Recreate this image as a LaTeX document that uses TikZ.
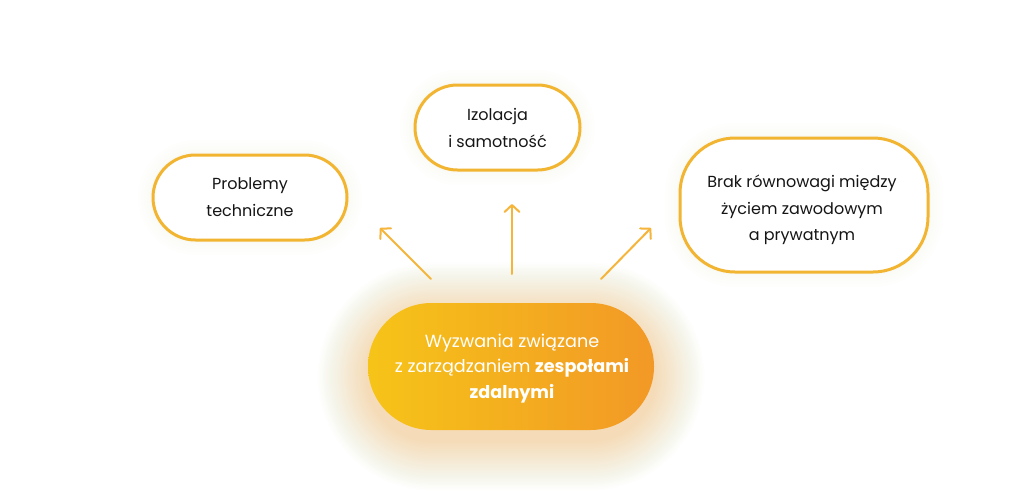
\documentclass[tikz,border=0pt]{standalone}
\usepackage{fontspec}
\setmainfont{Poppins}
\usetikzlibrary{arrows.meta}
\definecolor{bord}{HTML}{F2B532}
\definecolor{arr}{HTML}{F5B53A}
\definecolor{gy}{HTML}{F6C418}
\definecolor{go}{HTML}{F29826}
\definecolor{glowc}{HTML}{F5A53A}
\definecolor{txt}{HTML}{151515}
\begin{document}
\begin{tikzpicture}[x=1pt,y=-1pt,
  box/.style={draw=bord, line width=3pt, fill=white, inner sep=0pt},
  boxtext/.style={align=center, font=\fontsize{16}{27}\selectfont, text=txt, inner sep=0pt},
  mainbox/.style={left color=gy, right color=go, inner sep=0pt},
  link/.style={draw=arr, line width=2pt, line cap=round,
    -{Straight Barb[length=7pt,width=15pt,line width=2pt,round]}}]
\useasboundingbox (0,0) rectangle (1024,490);
\fill[white] (0,0) rectangle (1024,490);
% glow around main node
\foreach \i [evaluate=\i as \d using 1.4*\i, evaluate=\i as \r using 63.5+1.4*\i] in {1,...,36} {
  \fill[glowc, opacity=0.009, rounded corners=\r pt]
    (368-\d, 303-\d+10) rectangle (654+\d, 430+\d+10);
}
% faint shadows around white boxes
\foreach \i [evaluate=\i as \d using 3*\i] in {1,...,5} {
  \fill[glowc, opacity=0.008, rounded corners={42.5pt+\d pt}] (153-\d,155-\d) rectangle (347+\d,240+\d);
  \fill[glowc, opacity=0.008, rounded corners={42.5pt+\d pt}] (415-\d,85-\d) rectangle (580+\d,170+\d);
  \fill[glowc, opacity=0.008, rounded corners={55pt+\d pt}] (680-\d,138-\d) rectangle (928+\d,272+\d);
}
\node[box, minimum width=194pt, minimum height=85pt, rounded corners=42.5pt] (tech) at (250,197.5) {};
\node[boxtext] (techt) at (250,197) {Problemy\\techniczne};
\node[box, minimum width=165pt, minimum height=85pt, rounded corners=42.5pt] (izol) at (497.5,127.5) {};
\node[boxtext] (izolt) at (497.5,127.5) {Izolacja\\i samotność};
\node[box, minimum width=248pt, minimum height=134pt, rounded corners=55pt] (brak) at (804,205) {};
\node[boxtext, font=\fontsize{16}{26.5}\selectfont] (brakt) at (802,210) {Brak równowagi między\\życiem zawodowym\\a prywatnym};
\node[mainbox, minimum width=286pt, minimum height=127pt, rounded corners=63.5pt] (main) at (511,366.5) {};
\node[align=center, text=white, font=\fontsize{17.6}{25.5}\selectfont, inner sep=0pt] (maint) at (512,368.5) {Wyzwania związane\\z zarządzaniem \textbf{zespołami}\\\textbf{zdalnymi}};
% arrows
\coordinate (l0) at (431,279); \coordinate (l1) at (380,228);
\coordinate (m0) at (512,274); \coordinate (m1) at (512,204);
\coordinate (r0) at (601,279); \coordinate (r1) at (651,228);
\draw[link] (l0) -- (l1);
\draw[link] (m0) -- (m1);
\draw[link] (r0) -- (r1);
\end{tikzpicture}
\end{document}
